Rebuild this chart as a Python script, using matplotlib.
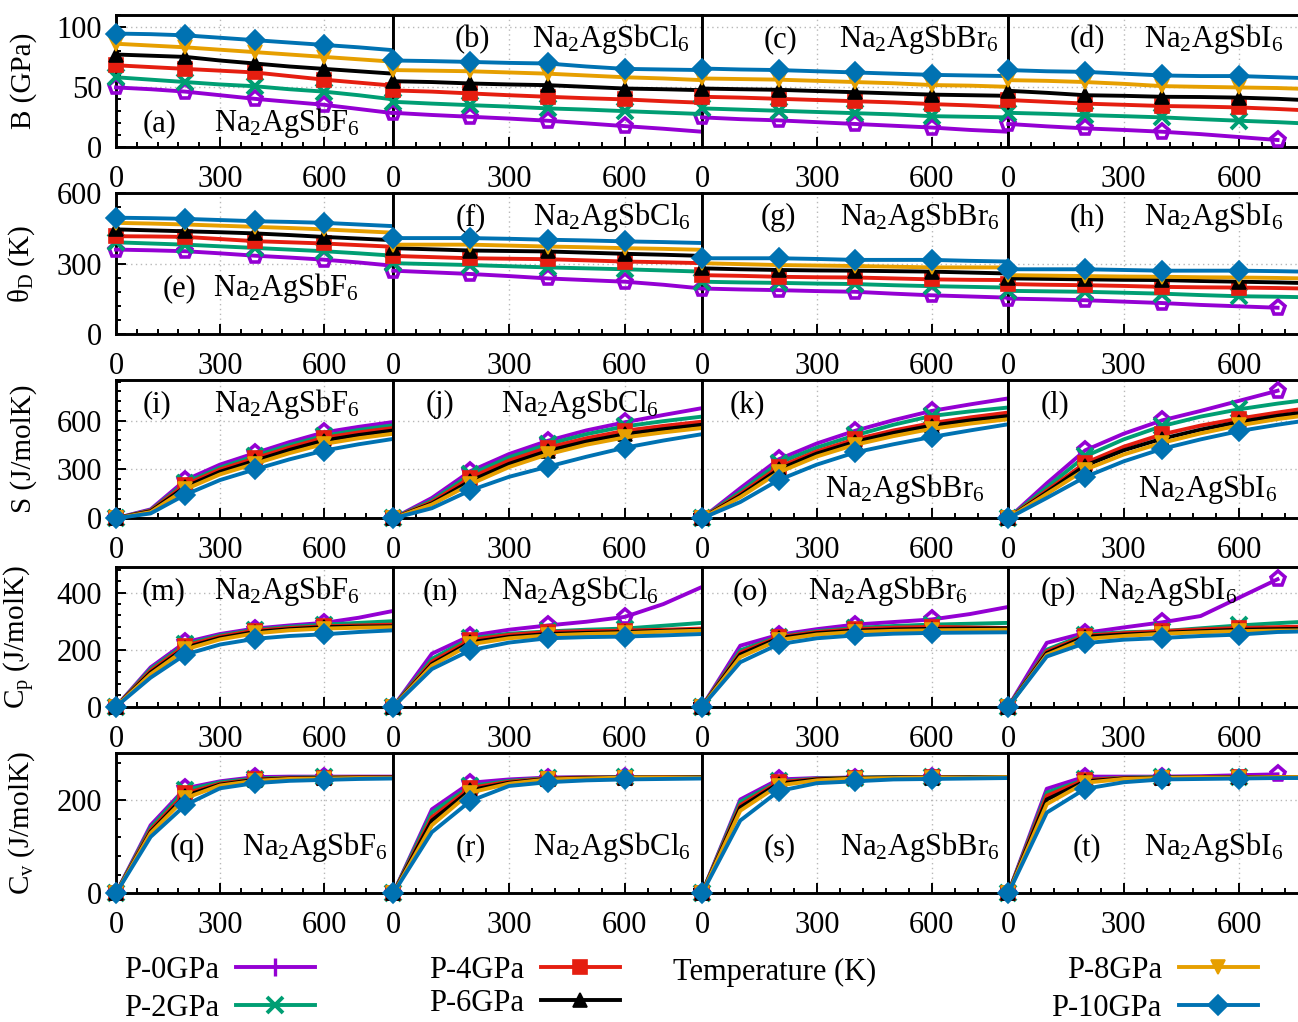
import matplotlib
matplotlib.use("Agg")
import matplotlib.pyplot as plt
from matplotlib.ticker import MultipleLocator
from matplotlib.lines import Line2D

plt.rcParams['font.family'] = ['Liberation Serif', 'DejaVu Serif']
plt.rcParams['mathtext.fontset'] = 'custom'
plt.rcParams['mathtext.rm'] = 'Liberation Serif'
plt.rcParams['mathtext.it'] = 'Liberation Serif:italic'
plt.rcParams['mathtext.bf'] = 'Liberation Serif:bold'

# Temperature grids (K); the P-0GPa iodide run stops at 700 K
T = [0, 100, 200, 300, 400, 500, 600, 700, 800]
T_I_P0 = [0, 100, 200, 300, 400, 500, 700]

pressures = ['P-0GPa', 'P-2GPa', 'P-4GPa', 'P-6GPa', 'P-8GPa', 'P-10GPa']
compounds = ['Na$_2$AgSbF$_6$', 'Na$_2$AgSbCl$_6$', 'Na$_2$AgSbBr$_6$', 'Na$_2$AgSbI$_6$']
ylabels = ['B (GPa)', r'$\mathrm{\theta}_\mathrm{D}$ (K)', 'S (J/molK)',
           'C$_\\mathrm{p}$ (J/molK)', 'C$_\\mathrm{v}$ (J/molK)']

# Bulk modulus B (GPa), rows ordered P-0 ... P-10
B_F = [[49.5, 48, 46, 43, 40, 37.5, 35, 31.5, 28],
       [58, 56, 54, 52, 50.5, 48, 46, 43, 39.5],
       [68, 66.5, 65, 63.5, 62, 59, 56, 53.5, 51],
       [77, 76, 75, 72, 69.5, 67, 65, 63, 61],
       [86, 84.5, 83, 81, 79, 77, 75, 73, 71],
       [94.5, 94, 93, 91, 89, 87, 85, 83, 80.6]]
B_Cl = [[28.3, 26.5, 25, 23.5, 21.7, 19.5, 17.2, 15, 12.5],
        [37.5, 36, 34.7, 33.5, 32, 31, 29.7, 28.5, 27.3],
        [47, 46, 44.5, 43, 41.7, 40.5, 39.5, 38, 36.7],
        [54.7, 54, 52.8, 52, 51.4, 50, 48.6, 48, 47.2],
        [64, 63.5, 63, 62, 61, 59.5, 58, 57, 55.6],
        [72, 71.5, 70.8, 70, 69.5, 67, 65, 64.5, 64]]
B_Br = [[24.5, 23, 22, 20.5, 19, 17.5, 16, 14, 12.5],
        [32, 31, 30, 29, 28, 27, 25.5, 25, 24.5],
        [41.7, 41, 40, 39, 38, 37, 35.6, 34.5, 33],
        [48.6, 48, 47.5, 46.5, 45.5, 44.5, 43.5, 43, 42.5],
        [57, 56.5, 56, 55, 54, 53, 51.5, 51, 50],
        [65.3, 64.5, 64, 63, 62, 61, 60, 59.5, 59]]
B_I = [[19, 17, 15.3, 14, 12.5, 10.5, 5.6],
       [28.3, 27.5, 26.4, 25.5, 24.5, 23, 21.7, 20.5, 19],
       [39, 37.5, 36, 35, 34, 33.5, 32.8, 31.5, 30],
       [46.7, 45, 43, 42.5, 41.7, 41.5, 41, 40, 38.5],
       [55.6, 55, 54, 52.5, 50.6, 50, 49.5, 49, 48],
       [64, 63, 62.5, 61, 59.5, 59, 59, 58, 57]]

# Debye temperature (K)
TD_F = [[360, 357, 353, 344, 334, 326, 317, 305, 291],
        [391, 386, 381, 374, 367, 360, 353, 344, 334],
        [417, 416, 414, 405, 396, 391, 386, 379, 372],
        [446, 442, 438, 434, 429, 422, 414, 407, 400],
        [474, 471, 467, 462, 457, 452, 446, 439, 432],
        [496, 494, 491, 486, 481, 478, 474, 467, 460]]
TD_Cl = [[270, 263, 256, 247, 237, 230, 223, 210, 194],
         [302, 298, 294, 289, 284, 280, 276, 271, 266],
         [333, 328, 323, 321, 319, 314, 309, 306, 302],
         [366, 361, 356, 354, 352, 347, 342, 338, 333],
         [381, 381, 381, 377, 373, 370, 366, 363, 359],
         [409, 409, 409, 406, 402, 399, 395, 392, 388]]
TD_Br = [[194, 190, 187, 183, 180, 172, 165, 160, 155],
         [223, 220, 218, 215, 213, 208, 204, 201, 198],
         [251, 248, 244, 242, 241, 237, 233, 231, 230],
         [280, 276, 273, 271, 270, 268, 266, 262, 258],
         [302, 298, 294, 292, 290, 287, 284, 284, 284],
         [323, 323, 323, 320, 316, 316, 316, 312, 309]]
TD_I = [[151, 148, 144, 138, 132, 124, 112],
        [184, 182, 180, 176, 172, 166, 161, 159, 156],
        [213, 210, 208, 205, 201, 199, 198, 196, 193],
        [237, 235, 233, 231, 230, 226, 223, 220, 216],
        [251, 249, 247, 245, 244, 242, 241, 239, 236],
        [276, 276, 276, 273, 270, 270, 270, 268, 265]]

# Entropy S (J/molK)
S_F = [[0, 55, 235, 330, 400, 468, 528, 562, 592],
       [0, 50, 218, 312, 382, 450, 507, 543, 572],
       [0, 47, 207, 300, 368, 435, 495, 528, 555],
       [0, 43, 193, 286, 353, 420, 478, 512, 540],
       [0, 38, 178, 270, 335, 400, 457, 492, 520],
       [0, 30, 145, 235, 300, 362, 416, 455, 488]]
S_Cl = [[0, 125, 290, 395, 476, 540, 590, 635, 677],
        [0, 110, 270, 375, 455, 517, 565, 597, 625],
        [0, 100, 250, 355, 434, 492, 538, 568, 594],
        [0, 92, 230, 335, 414, 472, 517, 548, 575],
        [0, 85, 210, 315, 393, 452, 497, 528, 555],
        [0, 62, 172, 255, 317, 378, 434, 478, 517]]
S_Br = [[0, 185, 362, 460, 538, 603, 660, 700, 737],
        [0, 165, 340, 435, 510, 575, 629, 657, 681],
        [0, 150, 315, 412, 485, 540, 585, 620, 650],
        [0, 140, 300, 398, 470, 525, 570, 602, 629],
        [0, 130, 282, 380, 452, 505, 550, 582, 609],
        [0, 100, 235, 330, 405, 455, 500, 540, 578]]
S_I = [[0, 215, 418, 520, 602, 660, 784],
       [0, 190, 381, 485, 567, 625, 670, 705, 735],
       [0, 170, 340, 440, 516, 570, 613, 650, 685],
       [0, 160, 324, 418, 489, 545, 592, 630, 660],
       [0, 150, 299, 392, 464, 522, 571, 610, 640],
       [0, 125, 254, 350, 427, 485, 536, 575, 610]]

# Heat capacity at constant pressure Cp (J/molK)
CP_F = [[0, 138, 226, 255, 274, 285, 294, 312, 336],
        [0, 132, 219, 250, 270, 280, 288, 294, 300],
        [0, 126, 214, 246, 267, 276, 282, 285, 288],
        [0, 120, 207, 241, 262, 272, 279, 281, 282],
        [0, 114, 201, 236, 257, 268, 274, 277, 279],
        [0, 102, 183, 218, 238, 248, 254, 262, 268]]
CP_Cl = [[0, 186, 249, 270, 285, 298, 315, 360, 420],
         [0, 168, 240, 256, 264, 270, 274, 284, 294],
         [0, 158, 234, 252, 262, 265, 267, 270, 274],
         [0, 150, 226, 245, 255, 259, 262, 266, 270],
         [0, 144, 219, 240, 250, 255, 258, 263, 267],
         [0, 132, 198, 225, 240, 244, 246, 250, 255]]
CP_Br = [[0, 214, 252, 272, 288, 297, 306, 325, 350],
         [0, 198, 246, 265, 276, 283, 288, 291, 294],
         [0, 190, 244, 262, 272, 277, 280, 278, 276],
         [0, 183, 240, 258, 267, 271, 273, 274, 275],
         [0, 174, 234, 253, 262, 266, 268, 269, 270],
         [0, 156, 219, 240, 250, 256, 259, 260, 261]]
CP_I = [[0, 224, 259, 278, 296, 318, 447],
        [0, 200, 253, 261, 265, 275, 285, 293, 300],
        [0, 194, 249, 258, 265, 271, 276, 279, 282],
        [0, 188, 245, 253, 259, 265, 270, 272, 274],
        [0, 182, 238, 248, 256, 261, 265, 267, 268],
        [0, 176, 223, 235, 241, 248, 253, 262, 265]]

# Heat capacity at constant volume Cv (J/molK)
CV_F = [[0, 146, 225, 240, 249, 250, 250, 250, 250],
        [0, 141, 221, 238, 246, 248, 249, 249, 249],
        [0, 136, 214, 235, 244, 247, 248, 249, 249],
        [0, 132, 209, 233, 243, 246, 247, 248, 248],
        [0, 129, 204, 231, 241, 245, 246, 247, 247],
        [0, 121, 189, 225, 236, 241, 243, 245, 246]]
CV_Cl = [[0, 180, 237, 244, 248, 249, 249, 249, 249],
         [0, 173, 230, 241, 247, 248, 249, 249, 249],
         [0, 163, 226, 239, 246, 248, 248, 249, 249],
         [0, 156, 221, 237, 245, 247, 248, 248, 249],
         [0, 146, 216, 235, 244, 246, 248, 248, 248],
         [0, 131, 198, 230, 238, 242, 244, 245, 246]]
CV_Br = [[0, 201, 244, 247, 248, 249, 249, 249, 249],
         [0, 196, 240, 246, 248, 249, 249, 249, 249],
         [0, 189, 238, 245, 247, 248, 249, 249, 249],
         [0, 184, 235, 244, 247, 248, 248, 249, 249],
         [0, 177, 231, 242, 246, 247, 248, 248, 249],
         [0, 156, 219, 236, 240, 244, 245, 246, 247]]
CV_I = [[0, 224, 250, 250, 250, 251, 255],
        [0, 216, 244, 248, 249, 249, 249, 249, 249],
        [0, 209, 243, 247, 248, 249, 249, 249, 249],
        [0, 201, 240, 246, 248, 248, 249, 249, 249],
        [0, 191, 237, 245, 247, 248, 248, 249, 249],
        [0, 173, 224, 238, 244, 245, 246, 247, 247]]

rows = [[B_F, B_Cl, B_Br, B_I],
        [TD_F, TD_Cl, TD_Br, TD_I],
        [S_F, S_Cl, S_Br, S_I],
        [CP_F, CP_Cl, CP_Br, CP_I],
        [CV_F, CV_Cl, CV_Br, CV_I]]

ylims = [110, 600, 850, 490, 300]
yminor = [10, 60, 60, 40, 40]
yticks = [[0, 50, 100], [0, 300, 600], [0, 300, 600], [0, 200, 400], [0, 200]]

colors = ['#9400D3', '#009E73', '#E51E10', '#000000', '#E69F00', '#0072B2']
markers = ['p', 'x', 's', '^', 'v', 'D']

W, H = 1298, 1022
col_left = [116, 393.3, 702, 1008.3]
col_right = [393.3, 702, 1008.3, 1316]
row_top = [15, 193.3, 380, 567, 753.3]
row_bot = [146.7, 334, 518.3, 706.7, 893.3]

FS = 22

fig = plt.figure(figsize=(W / 100, H / 100), dpi=100)


def style_kw(i):
    kw = dict(color=colors[i], lw=2.8, marker=markers[i], ms=10, zorder=3 + i,
              clip_on=False)
    if i == 0:
        kw.update(mfc='none', mew=2.6, ms=11)
    elif i == 1:
        kw.update(mew=2.8, ms=11)
    else:
        kw.update(mfc=colors[i], mew=1.2)
    return kw


for r in range(5):
    for c in range(4):
        x0 = col_left[c] / W
        w = (col_right[c] - col_left[c]) / W
        y0 = 1 - row_bot[r] / H
        h = (row_bot[r] - row_top[r]) / H
        ax = fig.add_axes([x0, y0, w, h])
        data = rows[r][c]
        for i in range(6):
            xs = T_I_P0 if (c == 3 and i == 0) else T
            ax.plot(xs, data[i], markevery=[0, 2, 4, 6], **style_kw(i))
        ax.set_xlim(0, 800)
        ax.set_ylim(0, ylims[r])
        ax.xaxis.set_major_locator(MultipleLocator(300))
        ax.xaxis.set_minor_locator(MultipleLocator(60))
        ax.set_yticks(yticks[r])
        ax.yaxis.set_minor_locator(MultipleLocator(yminor[r]))
        ax.grid(True, which='major', color='#b8b8b8', linestyle=(0, (1, 2.5)), lw=1.0)
        ax.set_axisbelow(True)
        ax.tick_params(which='both', direction='in', top=False, right=False,
                       width=1.4, labelsize=FS)
        ax.tick_params(which='major', length=7)
        ax.tick_params(which='minor', length=3.5)
        ax.tick_params(axis='x', pad=13)
        ax.tick_params(axis='y', pad=10)
        for sp in ax.spines.values():
            sp.set_linewidth(2.1)
        if c != 0:
            ax.tick_params(axis='y', which='both', left=False, labelleft=False)
        else:
            ax.set_ylabel(ylabels[r], fontsize=21)
            ax.yaxis.set_label_coords(-(col_left[0] - 37) / (col_right[0] - col_left[0]), 0.5)

# Panel tags and compound names: (letter x, name x, y) in pixels
tag_pos = [
    [(160, 287, 122), (472, 611, 38), (780, 919, 38), (1087, 1214, 38)],
    [(180, 286, 287), (471, 612, 216), (778, 920, 216), (1087, 1214, 216)],
    [(157, 287, 403), (440, 580, 403), (747, 905, 403), (1055, 1208, 403)],
    [(164, 287, 590), (440, 580, 590), (750, 888, 590), (1058, 1168, 590)],
    [(187, 315, 846), (471, 612, 846), (780, 920, 846), (1087, 1214, 846)],
]
name_y_override = {(2, 2): 488, (2, 3): 488}
letters = 'abcdefghijklmnopqrst'
for r in range(5):
    for c in range(4):
        lx, nx, y = tag_pos[r][c]
        ny = name_y_override.get((r, c), y)
        k = r * 4 + c
        fig.text(lx / W, 1 - (y + 9) / H, '(%s)' % letters[k], fontsize=FS,
                 ha='center', va='baseline')
        fig.text(nx / W, 1 - (ny + 9) / H, compounds[c], fontsize=FS,
                 ha='center', va='baseline')

fig.text(775 / W, 1 - 972 / H, 'Temperature (K)', fontsize=FS, ha='center', va='center')

# Key entries: label right-aligned, sample line to the right
key_pos = [(315, 970), (315, 1008), (620, 970), (620, 1003), (1258, 970), (1258, 1008)]
for i, (xe, ye) in enumerate(key_pos):
    kw = style_kw(i)
    kw.pop('clip_on')
    kw.pop('zorder')
    if i == 0:
        kw.update(marker='|', ms=13, mew=2.4)
    h = Line2D([], [], **kw)
    fig.legend(handles=[h], labels=[pressures[i]], loc='center right',
               bbox_to_anchor=(xe / W, 1 - ye / H), frameon=False, markerfirst=False,
               handlelength=2.6, handletextpad=0.55, borderpad=0, borderaxespad=0,
               fontsize=FS)

fig.savefig('out.png', dpi=100)
